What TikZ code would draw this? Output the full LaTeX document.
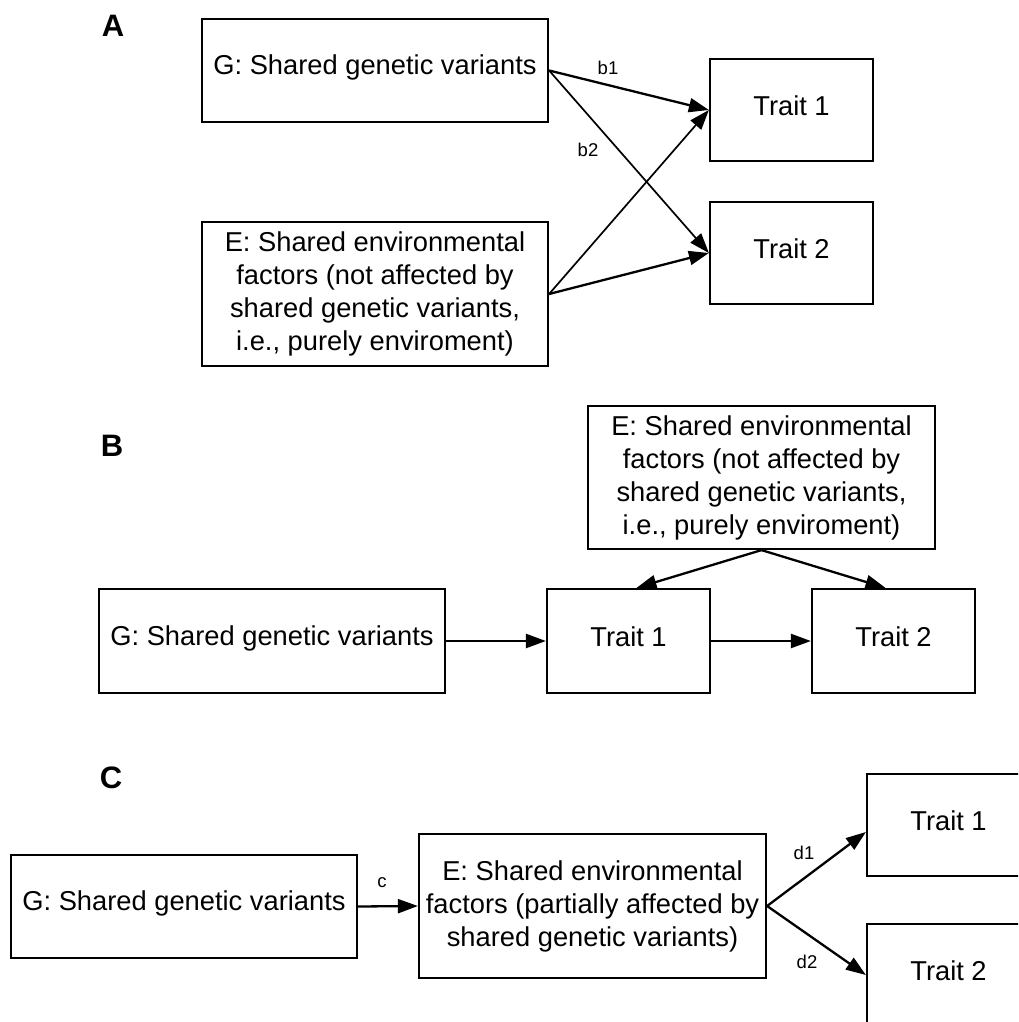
\documentclass[tikz,border=0pt]{standalone}
\usepackage{fontspec}
\setmainfont{Liberation Sans}
\usetikzlibrary{arrows.meta,calc}
\tikzset{
  box/.style={draw=black, line width=2.2pt, inner sep=0pt, align=center,
    font=\fontsize{27.3}{33}\selectfont},
  widebox/.style={box, minimum width=346pt, minimum height=103pt},
  gbox/.style={widebox, text height=20pt, text depth=12pt},
  tallbox/.style={box, minimum width=347pt, minimum height=144pt},
  traitbox/.style={box, minimum width=163pt, minimum height=102pt, text height=20pt, text depth=9pt},
  arr/.style={line width=2.3pt, -{Triangle[length=20pt,width=14pt]}},
  thinarr/.style={line width=1.7pt, -{Triangle[length=20pt,width=14pt]}},
  edgelabel/.style={font=\fontsize{18.5}{20}\selectfont, inner sep=0pt},
  panel/.style={font=\fontsize{31}{33}\selectfont\bfseries, inner sep=0pt}
}
\begin{document}
\begin{tikzpicture}[x=1pt, y=-1pt]
\path[use as bounding box] (0,0) rectangle (1018,1022);
\clip (0,0) rectangle (1018,1022);
\fill[white] (0,0) rectangle (1018,1022);

% Panel A
\node[panel] (labA) at (113,26) {A};
\node[gbox] (GA) at (375,70.5) {G: Shared genetic variants};
\node[tallbox, minimum width=346pt] (EA) at (375,294) {E: Shared environmental\\factors (not affected by\\shared genetic variants,\\i.e., purely enviroment)};
\node[traitbox] (T1A) at (791.5,110) {Trait 1};
\node[traitbox] (T2A) at (791.5,253) {Trait 2};
\draw[arr] (GA.east) -- (T1A.west);
\draw[thinarr] (GA.east) -- (T2A.west);
\draw[thinarr] (EA.east) -- (T1A.west);
\draw[arr] (EA.east) -- (T2A.west);
\node[edgelabel] (b1) at (608,68) {b1};
\node[edgelabel] (b2) at (588,150) {b2};

% Panel B
\node[panel] (labB) at (112,446) {B};
\node[tallbox, minimum height=143pt] (EB) at (761.5,477.5) {E: Shared environmental\\factors (not affected by\\shared genetic variants,\\i.e., purely enviroment)};
\node[gbox, minimum height=104pt] (GB) at (272,641) {G: Shared genetic variants};
\node[traitbox, minimum height=104pt] (T1B) at (628.5,641) {Trait 1};
\node[traitbox, minimum height=104pt] (T2B) at (893.5,641) {Trait 2};
\coordinate (T1Bin) at ($(T1B.north)+(8,0)$);
\coordinate (T2Bin) at ($(T2B.north)+(-8,0)$);
\draw[arr] (GB.east) -- (T1B.west);
\draw[arr] (T1B.east) -- (T2B.west);
\draw[arr] (EB.south) -- (T1Bin);
\draw[arr] (EB.south) -- (T2Bin);

% Panel C
\node[panel] (labC) at (111,778) {C};
\node[gbox] (GC) at (184,906.5) {G: Shared genetic variants};
\node[tallbox] (EC) at (592.5,906) {E: Shared environmental\\factors (partially affected by\\shared genetic variants)};
\node[traitbox] (T1C) at (948.5,825) {Trait 1};
\node[traitbox] (T2C) at (948.5,975) {Trait 2};
\coordinate (T1Cin) at ($(T1C.west)+(0,7)$);
\draw[arr] (GC.east) -- (EC.west);
\draw[arr] (EC.east) -- (T1Cin);
\draw[arr] (EC.east) -- (T2C.west);
\node[edgelabel] (c) at (382,883) {c};
\node[edgelabel] (d1) at (804,853) {d1};
\node[edgelabel] (d2) at (807,962) {d2};
\end{tikzpicture}
\end{document}
